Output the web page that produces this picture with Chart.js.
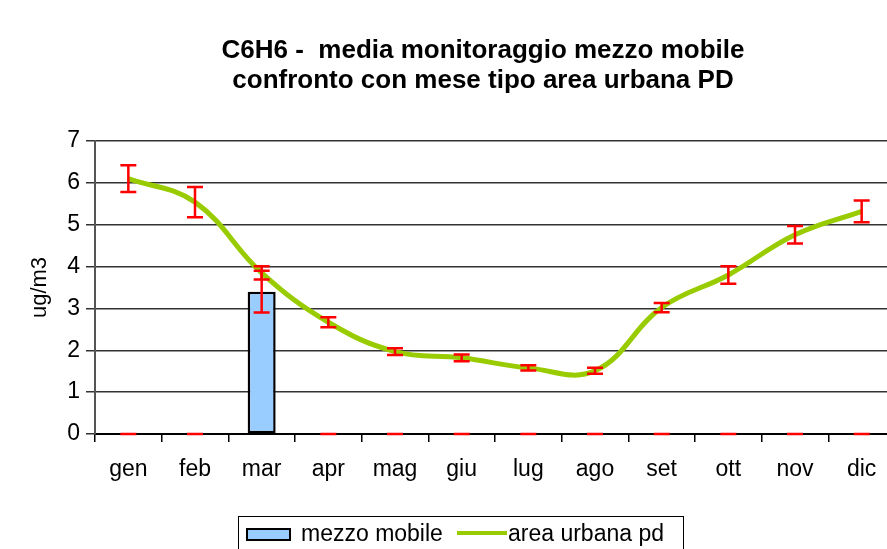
<!DOCTYPE html>
<html>
<head>
<meta charset="utf-8">
<script src="https://cdn.jsdelivr.net/npm/chart.js@4"></script>
<style>
  html, body { margin: 0; padding: 0; background: #fff; overflow: hidden; width: 887px; height: 549px; }
  #wrap { position: relative; width: 900px; height: 549px; font-family: 'Liberation Sans', Arial, sans-serif; color: #000; }
  #chart { position: absolute; left: 0; top: 0; }
  #title { position: absolute; left: 0; top: 34px; width: 966px; text-align: center; font-weight: bold; font-size: 26px; line-height: 30px; }
  #legend { position: absolute; left: 238px; top: 516px; width: 446px; height: 40px; border: 1px solid #000; box-sizing: border-box; }
  #legend .sw { position: absolute; left: 7px; top: 11px; width: 41px; height: 9px; background: #99ccff; border: 2px solid #000; }
  #legend .ln { position: absolute; left: 218px; top: 14px; width: 50px; height: 4px; background: #99cc00; }
  #legend .tx { position: absolute; top: 5px; font-size: 23px; line-height: 23px; white-space: nowrap; }
</style>
</head>
<body>
<div id="wrap">
  <canvas id="chart" width="900" height="549"></canvas>
  <div id="title">C6H6 -&nbsp; media monitoraggio mezzo mobile<br>confronto con mese tipo area urbana PD</div>
  <div id="legend"></div>
</div>
<script>
// ---- data ----
const categories = ['gen','feb','mar','apr','mag','giu','lug','ago','set','ott','nov','dic'];
const mezzoMobile = [0, 0, 3.4, 0, 0, 0, 0, 0, 0, 0, 0, 0];
const mezzoMobileErr = [0, 0, 0.5, 0, 0, 0, 0, 0, 0, 0, 0, 0];
const areaUrbana = [6.1, 5.54, 3.85, 2.67, 1.97, 1.82, 1.58, 1.51, 3.02, 3.80, 4.76, 5.32];
const areaUrbanaErr = [0.32, 0.36, 0.16, 0.12, 0.08, 0.08, 0.06, 0.07, 0.11, 0.21, 0.21, 0.26];
const yTicks = [0, 1, 2, 3, 4, 5, 6, 7];
const seriesNames = ['mezzo mobile', 'area urbana pd'];
const yTitle = 'ug/m3';

// ---- legend (HTML) ----
const lg = document.getElementById('legend');
lg.innerHTML =
  '<div class="sw"></div><span class="tx" style="left:62px">' + seriesNames[0] + '</span>' +
  '<div class="ln"></div><span class="tx" style="left:269px">' + seriesNames[1] + '</span>';

const FONT = "'Liberation Sans', Arial, sans-serif";

const errorBars = {
  id: 'errorBars',
  afterDatasetsDraw(chart) {
    const ctx = chart.ctx;
    const xs = chart.scales.x, ys = chart.scales.y;
    ctx.save();
    ctx.strokeStyle = '#ff0000';
    ctx.lineWidth = 2.5;
    chart.data.datasets.forEach(ds => {
      if (!ds.errors) return;
      ds.data.forEach((v, i) => {
        if (v === null || v === undefined) return;
        const e = ds.errors[i] || 0;
        const x = xs.getPixelForValue(i);
        const yt = ys.getPixelForValue(v + e);
        const yb = ys.getPixelForValue(v - e);
        const hw = 8;
        ctx.beginPath();
        ctx.moveTo(x, yt); ctx.lineTo(x, yb);
        ctx.moveTo(x - hw, yt); ctx.lineTo(x + hw, yt);
        ctx.moveTo(x - hw, yb); ctx.lineTo(x + hw, yb);
        ctx.stroke();
      });
    });
    ctx.restore();
  }
};

new Chart(document.getElementById('chart'), {
  type: 'bar',
  data: {
    labels: categories,
    datasets: [
      {
        type: 'line',
        label: seriesNames[1],
        data: areaUrbana,
        errors: areaUrbanaErr,
        borderColor: '#99cc00',
        borderWidth: 5,
        pointRadius: 0,
        tension: 0.4,
        fill: false,
        order: 1
      },
      {
        type: 'bar',
        label: seriesNames[0],
        data: mezzoMobile,
        errors: mezzoMobileErr,
        backgroundColor: '#99ccff',
        borderColor: '#000000',
        borderWidth: 2.5,
        borderSkipped: false,
        categoryPercentage: 1,
        barPercentage: 0.42,
        order: 2
      }
    ]
  },
  options: {
    responsive: false,
    animation: false,
    devicePixelRatio: 1,
    layout: { padding: { top: 141, left: 0, right: 5, bottom: 0 } },
    plugins: {
      legend: { display: false },
      title: { display: false },
      tooltip: { enabled: false }
    },
    scales: {
      x: {
        offset: true,
        afterFit: s => { s.height = 115; },
        grid: { offset: true, drawOnChartArea: false, drawTicks: true, tickLength: 8, color: '#000', lineWidth: 1.5 },
        border: { display: true, color: '#000', width: 2 },
        ticks: { color: '#000', font: { family: FONT, size: 23 }, padding: 14, maxRotation: 0 }
      },
      y: {
        min: 0,
        max: 7,
        afterFit: s => { s.width = 95; },
        afterBuildTicks: s => { s.ticks = yTicks.map(v => ({ value: v })); },
        grid: { color: '#333', lineWidth: 1.5, drawTicks: true, tickLength: 9 },
        border: { display: true, color: '#555', width: 2 },
        ticks: { color: '#000', font: { family: FONT, size: 23 }, padding: 6 },
        title: { display: true, text: yTitle, color: '#000', font: { family: FONT, size: 22 }, padding: { top: 27, bottom: 0 } }
      }
    }
  },
  plugins: [errorBars]
});
</script>
</body>
</html>
